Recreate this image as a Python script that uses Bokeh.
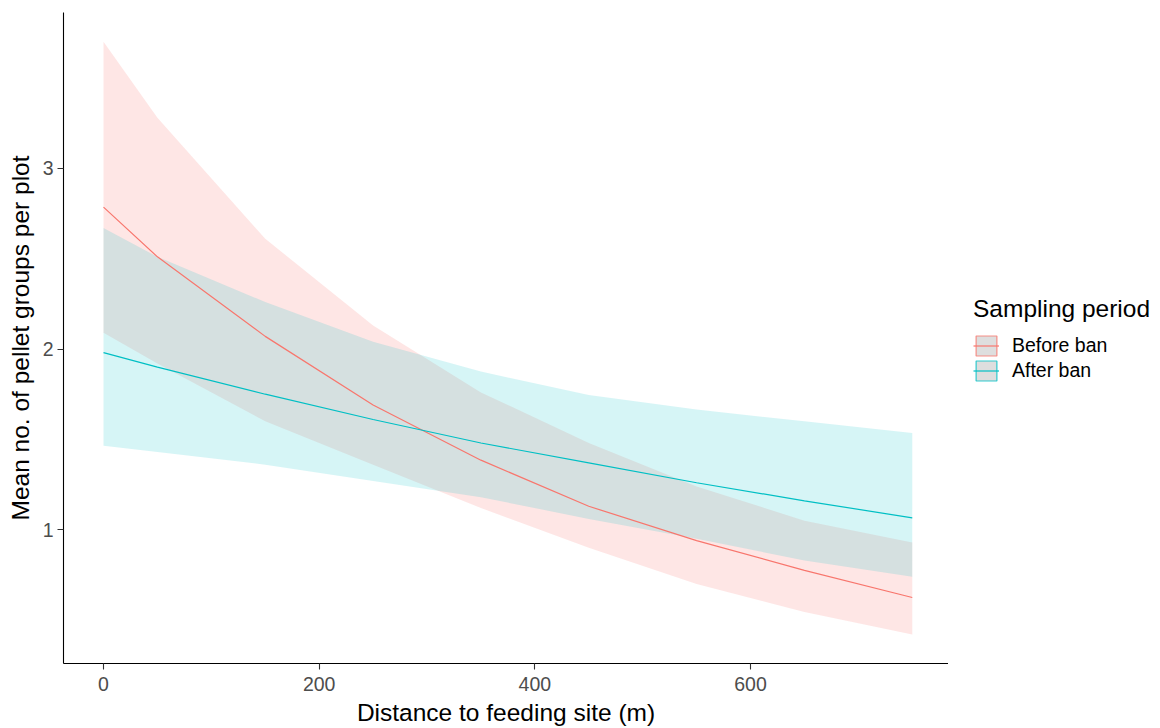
from bokeh.plotting import figure
from bokeh.layouts import row
from bokeh.models import Range1d, FixedTicker, Legend, LegendItem
from bokeh.embed import file_html
from bokeh.resources import INLINE

# ---- data ----
distance = [0, 50, 150, 250, 350, 450, 550, 650, 750]

before_mean = [2.785, 2.51, 2.07, 1.69, 1.385, 1.13, 0.94, 0.775, 0.625]
before_upper = [3.70, 3.28, 2.61, 2.13, 1.76, 1.48, 1.24, 1.05, 0.93]
before_lower = [2.09, 1.92, 1.60, 1.36, 1.12, 0.90, 0.70, 0.545, 0.42]

after_mean = [1.98, 1.90, 1.75, 1.61, 1.48, 1.37, 1.26, 1.16, 1.066]
after_upper = [2.67, 2.51, 2.26, 2.04, 1.875, 1.745, 1.665, 1.60, 1.535]
after_lower = [1.465, 1.43, 1.36, 1.27, 1.18, 1.06, 0.95, 0.83, 0.74]

x_ticks = [0, 200, 400, 600]
y_ticks = [1, 2, 3]
series_names = ["Before ban", "After ban"]
legend_title = "Sampling period"

RED = "#F8766D"
CYAN = "#00BFC4"
FONT = "Liberation Sans"

p = figure(width=948, height=728, output_backend="svg", toolbar_location=None,
           x_range=Range1d(-37.1, 783.6), y_range=Range1d(0.26, 3.862),
           min_border_left=63, min_border_right=0, min_border_top=12,
           min_border_bottom=65)
p.outline_line_color = None
p.xgrid.visible = False
p.ygrid.visible = False
p.background_fill_color = "white"
p.border_fill_color = "white"

# ribbons
p.varea(x=distance, y1=before_lower, y2=before_upper, fill_color=RED, fill_alpha=0.18)
p.varea(x=distance, y1=after_lower, y2=after_upper, fill_color=CYAN, fill_alpha=0.16)
# lines
p.line(distance, before_mean, line_color=RED, line_width=1.2)
p.line(distance, after_mean, line_color=CYAN, line_width=1.2)

# axes
for ax in (p.xaxis[0], p.yaxis[0]):
    ax.axis_line_color = "black"
    ax.axis_line_width = 1.1
    ax.major_tick_line_color = "#333333"
    ax.major_tick_line_width = 1.1
    ax.major_tick_out = 6
    ax.major_tick_in = 0
    ax.minor_tick_line_color = None
    ax.major_label_text_font = FONT
    ax.major_label_text_font_size = "19.5px"
    ax.major_label_text_color = "#4D4D4D"
    ax.axis_label_text_font = FONT
    ax.axis_label_text_font_size = "24.5px"
    ax.axis_label_text_font_style = "normal"
    ax.axis_label_text_color = "black"

p.xaxis.ticker = FixedTicker(ticks=x_ticks)
p.yaxis.ticker = FixedTicker(ticks=y_ticks)
p.xaxis.axis_label = "Distance to feeding site (m)"
p.yaxis.axis_label = "Mean no. of pellet groups per plot"
p.xaxis.major_label_standoff = 7
p.xaxis.axis_label_standoff = 5
p.yaxis.major_label_standoff = 4
p.yaxis.axis_label_standoff = 6

# ---- legend panel (separate small figure to the right) ----
lf = figure(width=212, height=728, output_backend="svg", toolbar_location=None,
            x_range=Range1d(0, 1), y_range=Range1d(0, 1),
            x_axis_type=None, y_axis_type=None,
            min_border_left=0, min_border_right=0, min_border_top=0, min_border_bottom=0)
lf.outline_line_color = None
lf.xgrid.visible = False
lf.ygrid.visible = False
lf.background_fill_color = "white"
lf.border_fill_color = "white"

# key renderers (placed outside the visible range, only their legend glyphs show)
k1 = lf.rect(x=[-9], y=[-9], width=1, height=1, fill_color="#DEDEDE", line_color=RED, line_alpha=0.8, line_width=1.2)
l1 = lf.line(x=[-9, -8], y=[-9, -9], line_color=RED, line_width=1.2)
k2 = lf.rect(x=[-9], y=[-9], width=1, height=1, fill_color="#DEDEDE", line_color=CYAN, line_alpha=0.8, line_width=1.2)
l2 = lf.line(x=[-9, -8], y=[-9, -9], line_color=CYAN, line_width=1.2)

legend = Legend(items=[LegendItem(label=series_names[0], renderers=[k1, l1]),
                       LegendItem(label=series_names[1], renderers=[k2, l2])],
                location=(25, 280))
legend.title = legend_title
legend.title_text_font = FONT
legend.title_text_font_size = "24.5px"
legend.title_text_font_style = "normal"
legend.title_text_color = "black"
legend.title_standoff = 10
legend.label_text_font = FONT
legend.label_text_font_size = "19.5px"
legend.label_text_color = "black"
legend.glyph_width = 26
legend.glyph_height = 25
legend.label_height = 25
legend.label_standoff = 13
legend.spacing = 0
legend.padding = 0
legend.margin = 0
legend.border_line_color = None
legend.background_fill_color = None
legend.background_fill_alpha = 0
lf.add_layout(legend, "center")

layout = row(p, lf, spacing=0)
open("out.html", "w").write(file_html(layout, INLINE))
